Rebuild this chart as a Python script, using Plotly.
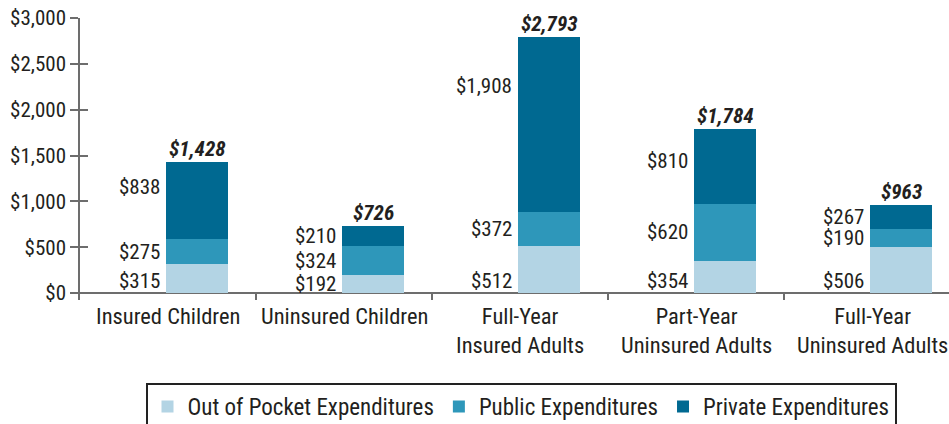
import plotly.graph_objects as go

categories = ["Insured Children", "Uninsured Children", "Full-Year<br>Insured Adults",
              "Part-Year<br>Uninsured Adults", "Full-Year<br>Uninsured Adults"]
out_of_pocket = [315, 192, 512, 354, 506]
public = [275, 324, 372, 620, 190]
private = [838, 210, 1908, 810, 267]
totals = [1428, 726, 2793, 1784, 963]
series_names = ["Out of Pocket Expenditures", "Public Expenditures", "Private Expenditures"]
y_ticks = [0, 500, 1000, 1500, 2000, 2500, 3000]

colors = ["#b3d4e4", "#2e97ba", "#006991"]
FONT = "Liberation Sans Narrow, Roboto Condensed, DejaVu Sans Condensed, Arial Narrow, sans-serif"
TXT = "#231f20"
AX = "#6d6d6d"
OFFSET = 0.165
BW = 0.352
FS = 21

xs = [i + OFFSET for i in range(len(categories))]
fig = go.Figure()
for name, vals, c in zip(series_names, [out_of_pocket, public, private], colors):
    fig.add_trace(go.Bar(x=xs, y=vals, name=name, width=BW, marker=dict(color=c, line=dict(width=0))))

# invisible trace for overlay axis (crossing ticks)
fig.add_trace(go.Scatter(x=[0], y=[0], yaxis="y2", mode="markers", marker=dict(opacity=0),
                         showlegend=False, hoverinfo="skip"))

ann = []
for i in range(len(categories)):
    segs = [out_of_pocket[i], public[i], private[i]]
    base = 0
    for k, v in enumerate(segs):
        mid = base + v / 2
        if k == 0:
            ypos = min(mid, 130)
        elif k == 2:
            ypos = max(mid, 0.81 * totals[i])
        else:
            ypos = mid
        ann.append(dict(x=xs[i] - BW / 2, y=ypos, xref="x", yref="y", text=f"${v:,}",
                        showarrow=False, xanchor="right", yanchor="middle", xshift=-4,
                        font=dict(family=FONT, size=FS, color=TXT)))
        base += v
    ann.append(dict(x=xs[i], y=totals[i], xref="x", yref="y", text=f"<b><i>${totals[i]:,}</i></b>",
                    showarrow=False, xanchor="center", yanchor="bottom", yshift=-1,
                    font=dict(family=FONT, size=21, color=TXT)))
    ann.append(dict(x=i, y=0, xref="x", yref="paper", text=categories[i], showarrow=False,
                    xanchor="center", yanchor="top", yshift=-1,
                    font=dict(family=FONT, size=22.5, color=TXT)))

fig.update_layout(
    width=949, height=424,
    margin=dict(l=80, r=0, t=18, b=124, autoexpand=False),
    plot_bgcolor="white", paper_bgcolor="white",
    barmode="stack", bargap=0,
    font=dict(family=FONT, size=FS, color=TXT),
    xaxis=dict(range=[-0.5, -0.5 + 869 / 176], showline=False, showgrid=False, zeroline=False,
               tickvals=[0.5, 1.5, 2.5, 3.5], ticktext=["", "", "", ""], ticks="inside",
               ticklen=7, tickwidth=1.5, tickcolor=AX, showticklabels=False, fixedrange=True,
               automargin=False),
    yaxis=dict(range=[-76, 3000], tickvals=y_ticks, tickformat="$,.0f", ticks="outside",
               ticklen=8, tickwidth=1.5, tickcolor=AX, showline=True, linecolor=AX, linewidth=1.5,
               showgrid=False, zeroline=True, zerolinecolor=AX, zerolinewidth=1.5,
               automargin=False, tickfont=dict(family=FONT, size=21, color=TXT)),
    yaxis2=dict(range=[-76, 3000], overlaying="y", side="left", anchor="x", tickvals=y_ticks,
                ticks="inside", ticklen=8, tickwidth=1.5, tickcolor=AX, showticklabels=False,
                showline=False, showgrid=False, zeroline=False, automargin=False),
    legend=dict(orientation="h", x=0.549, xref="container", xanchor="center",
                y=1 - 383 / 424, yref="container", yanchor="top",
                bordercolor="#222222", borderwidth=2, font=dict(family=FONT, size=23, color=TXT),
                traceorder="normal"),
    annotations=ann,
    showlegend=True,
)
fig.write_html("out.html", config={"displayModeBar": False},
               post_script="document.body.style.margin='0';document.body.style.overflow='hidden';")
